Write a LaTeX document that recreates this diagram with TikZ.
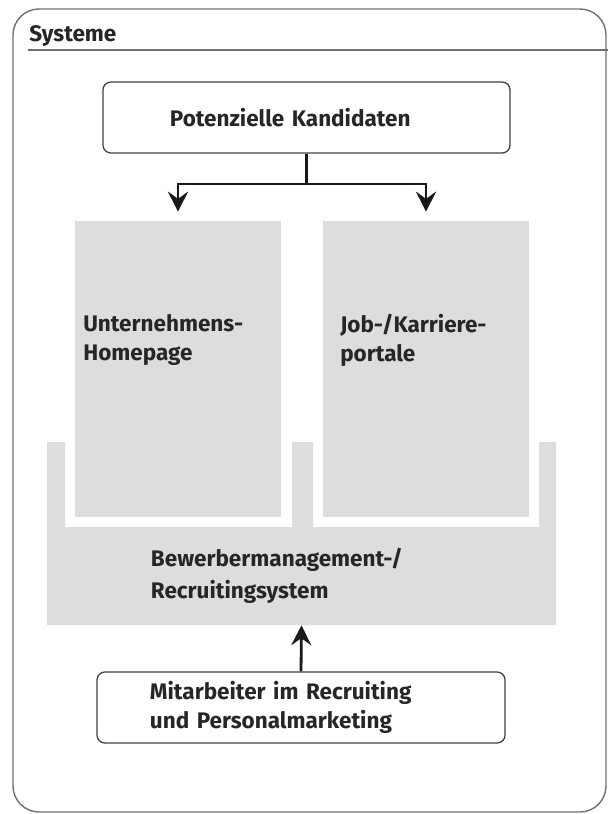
\documentclass[tikz,border=0pt]{standalone}
\usepackage{xcolor}
\usepackage{tikz}
\usepackage{fontspec}
\setmainfont{Fira Sans}
\usetikzlibrary{arrows.meta, positioning}
\definecolor{sysgray}{HTML}{DCDDDF}
\definecolor{rimgray}{HTML}{707070}
\tikzset{
  flow/.style={draw=black!90, line width=2pt, -{Stealth[length=0.5cm, width=0.5cm, inset=0.18cm]}},
  stem/.style={draw=black!90, line width=2pt}
}

\begin{document}
\begin{tikzpicture}[x=0.025cm, y=-0.025cm, font=\fontsize{16}{20.5}\selectfont\bfseries, text=black!85]
        \useasboundingbox (0,0) rectangle (608,814);
        % frame
        \draw[rimgray, line width=1pt, rounded corners=0.65cm] (13,9) rectangle (606,812);
        \node[anchor=base west, inner sep=0] (sys) at (29,42) {Systeme};
        \draw[rimgray, line width=1.5pt] (28,50) -- (608,50);
        % recruiting system
        \fill[sysgray] (47,442) -- (65,442) -- (65,527) -- (292,527) -- (292,442) -- (313,442)
          -- (313,527) -- (539,527) -- (539,442) -- (556,442) -- (556,625) -- (47,625) -- cycle;
        \begin{scope}[every node/.style={fill=sysgray, minimum width=5.15cm, minimum height=7.4cm, inner sep=0}]
          \node (hp) at (178,369) {};
          \node (portal) at (426,369) {};
        \end{scope}
        \begin{scope}[every node/.style={anchor=west, align=left, inner sep=0}]
          \node (hptext) at (83,340) {Unternehmens-\\Homepage};
          \node (portaltext) at (340,340) {Job-/Karriere-\\portale};
        \end{scope}
        \node[inner xsep=2.6cm, text width=7.525cm, minimum height=2.45cm, align=left] (bms) at (301.5,576)
          {Bewerbermanagement-/\\[2pt]Recruitingsystem};
        \begin{scope}[every node/.style={draw=black!75, line width=0.9pt, rounded corners=0.2cm, minimum height=1.775cm, align=left}]
          \node[inner xsep=1.675cm, text width=6.825cm] (kand) at (306.5,117.5) {Potenzielle Kandidaten};
          \node[inner xsep=1.325cm, text width=7.55cm] (mit) at (301,707.5) {Mitarbeiter im Recruiting\\und Personalmarketing};
        \end{scope}
        \coordinate (split) at (kand.south |- 0,184);
        \path[stem] (kand.south) -- (split);
        \path[flow] (split) -| ([yshift=0.225cm]hp.north);
        \path[flow] (split) -| ([yshift=0.225cm]portal.north);
        \path[flow] (mit.north) -- (bms.south);
      \end{tikzpicture}
\end{document}
